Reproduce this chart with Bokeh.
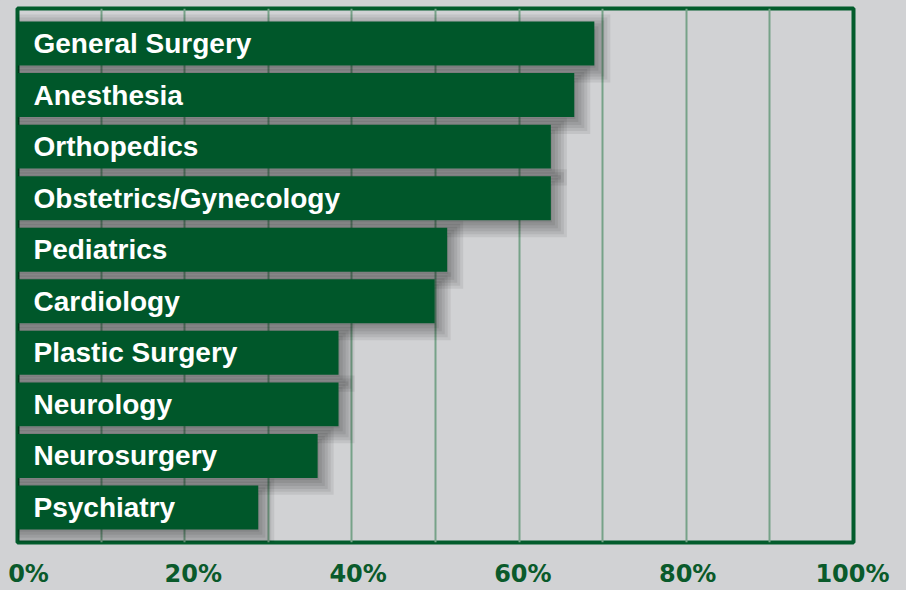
from bokeh.plotting import figure
from bokeh.models import ColumnDataSource, FactorRange, Range1d, LinearAxis, FixedTicker
from bokeh.transform import dodge
from bokeh.core.properties import value
from bokeh.embed import file_html
from bokeh.resources import INLINE

# ---- data ----
categories = ["General Surgery", "Anesthesia", "Orthopedics", "Obstetrics/Gynecology",
              "Pediatrics", "Cardiology", "Plastic Surgery", "Neurology",
              "Neurosurgery", "Psychiatry"]
percent = [69.0, 66.6, 63.8, 63.8, 51.4, 49.9, 38.4, 38.4, 35.9, 28.8]
grid_values = [0, 10, 20, 30, 40, 50, 60, 70, 80, 90, 100]
tick_values = [0, 20, 40, 60, 80, 100]
tick_labels = ["0%", "20%", "40%", "60%", "80%", "100%"]

BG = "#d1d2d4"
GREEN = "#00572a"
BORDER = "#035c2c"
GRID = "#76a288"
AXIS_TXT = "#0a5a2b"

W, H = 906, 590
p = figure(width=W, height=H, output_backend="svg", toolbar_location=None,
           x_range=Range1d(0, 100),
           y_range=FactorRange(factors=list(reversed(categories)),
                               range_padding=0.18, range_padding_units="absolute"),
           x_axis_location=None, y_axis_location=None,
           min_border_left=17, min_border_right=53, min_border_top=8, min_border_bottom=46)
p.background_fill_color = BG
p.border_fill_color = BG
p.outline_line_color = BORDER
p.outline_line_width = 4

p.xgrid.ticker = FixedTicker(ticks=grid_values)
p.xgrid.grid_line_color = GRID
p.xgrid.grid_line_width = 2
p.ygrid.grid_line_color = None

src = ColumnDataSource(dict(cat=categories, val=percent))

# soft drop shadow, built from the same values
px_x = 836 / 100.0   # pixels per percent (approx)
px_y = 51.6          # pixels per category
for e in [-3, 0, 3, 6, 9, 12]:
    sh = ColumnDataSource(dict(cat=categories,
                               right=[v + (4 + e) / px_x for v in percent]))
    p.hbar(y=dodge("cat", -5 / px_y, range=p.y_range), left=0, right="right",
           height=0.853 + 2 * e / px_y, source=sh,
           fill_color="black", fill_alpha=0.07, line_color=None)

p.hbar(y="cat", left=0, right="val", height=0.853, source=src,
       fill_color=GREEN, line_color=None)

p.text(x=0, y="cat", text="cat", source=src, x_offset=16,
       text_baseline="middle", text_align="left",
       text_font=value("Liberation Sans"), text_font_style="bold",
       text_font_size="28px", text_color="white")

# tick-label axis on its own slightly inset range
scale = 824 / 100.0
start = -(11 / scale)
p.extra_x_ranges = {"lab": Range1d(start, start + 836 / scale)}
ax = LinearAxis(x_range_name="lab", ticker=FixedTicker(ticks=tick_values),
                major_label_overrides={v: l for v, l in zip(tick_values, tick_labels)})
ax.axis_line_color = None
ax.major_tick_line_color = None
ax.minor_tick_line_color = None
ax.major_tick_out = 0
ax.major_label_standoff = 17
ax.major_label_text_font = "DejaVu Sans"
ax.major_label_text_font_style = "bold"
ax.major_label_text_font_size = "24px"
ax.major_label_text_color = AXIS_TXT
p.add_layout(ax, "below")

html = file_html(p, INLINE)
html = html.replace("<head>", "<head><style>html,body{background:%s;}</style>" % BG, 1)
open("out.html", "w").write(html)
